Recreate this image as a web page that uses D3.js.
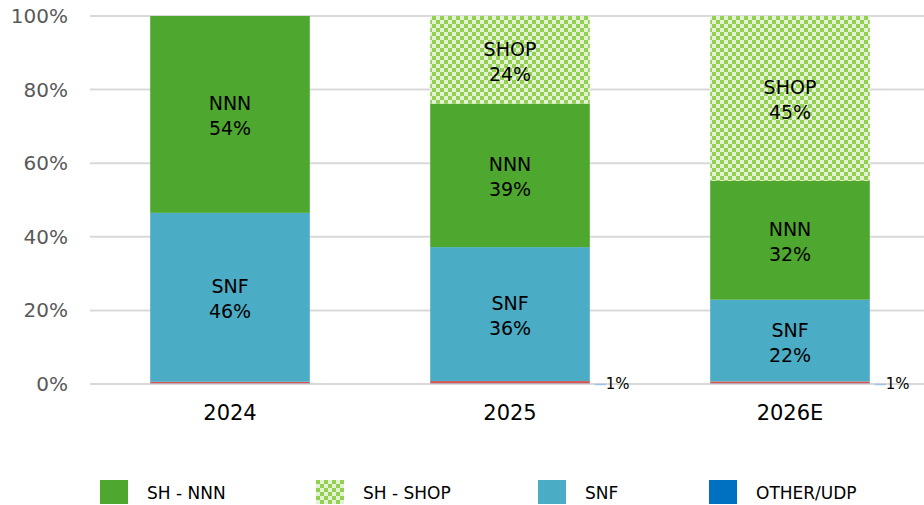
<!DOCTYPE html>
<html>
<head>
<meta charset="utf-8">
<script src="https://cdn.jsdelivr.net/npm/d3@7"></script>
<style>
  body { margin: 0; background: #fff; }
  svg { display: block; font-family: "DejaVu Sans", sans-serif; }
</style>
</head>
<body>
<div id="chart"></div>
<script>
// data (percent of total)
const years = ["2024", "2025", "2026E"];
const otherUdp = [0.2, 0.2, 0.2];   // thin blue sliver at the bottom
const redBase = [0.4, 0.6, 0.5];    // thin red strip on top of it
const snf = [45.9, 36.4, 22.2];
const nnn = [53.5, 39.0, 32.3];
const shop = [0, 23.8, 44.8];
const otherLabels = [null, "1%", "1%"];
const yTicks = [0, 20, 40, 60, 80, 100];

const W = 924, H = 505;
const plot = { left: 90, right: 930, top: 16, bottom: 384 };

const svg = d3.select("#chart").append("svg")
    .attr("width", W)
    .attr("height", H);

// checker pattern for SHOP
const defs = svg.append("defs");
const pat = defs.append("pattern")
    .attr("id", "checker")
    .attr("patternUnits", "userSpaceOnUse")
    .attr("width", 8).attr("height", 8);
pat.append("rect").attr("width", 8).attr("height", 8).attr("fill", "#e4f1d6");
pat.append("rect").attr("width", 4).attr("height", 4).attr("fill", "#92d050");
pat.append("rect").attr("x", 4).attr("y", 4).attr("width", 4).attr("height", 4).attr("fill", "#92d050");

const x = d3.scaleBand()
    .domain(years)
    .range([plot.left, plot.right])
    .paddingInner(0.43)
    .paddingOuter(0.215);

const y = d3.scaleLinear()
    .domain([0, 100])
    .range([plot.bottom, plot.top]);

// gridlines + y labels
svg.append("g")
    .selectAll("line")
    .data(yTicks)
    .enter().append("line")
    .attr("x1", plot.left).attr("x2", W)
    .attr("y1", d => y(d)).attr("y2", d => y(d))
    .attr("stroke", "#d9d9d9")
    .attr("stroke-width", 2);

svg.append("g")
    .selectAll("text")
    .data(yTicks)
    .enter().append("text")
    .attr("x", 68)
    .attr("y", d => y(d))
    .attr("dy", "0.35em")
    .attr("text-anchor", "end")
    .attr("font-size", 20)
    .attr("fill", "#595959")
    .text(d => d + "%");

// stacked series
const keys = ["other", "red", "snf", "nnn", "shop"];
const rows = years.map((yr, i) => ({
    year: yr, other: otherUdp[i], red: redBase[i], snf: snf[i], nnn: nnn[i], shop: shop[i]
}));
const stack = d3.stack().keys(keys)(rows);
const fills = {
    other: "#9dc3e6",
    red: "#d9534f",
    snf: "#4bacc6",
    nnn: "#4ea72e",
    shop: "url(#checker)"
};
const names = { snf: "SNF", nnn: "NNN", shop: "SHOP" };

const layers = svg.append("g")
    .selectAll("g")
    .data(stack)
    .enter().append("g")
    .attr("fill", d => fills[d.key]);

layers.selectAll("rect")
    .data(d => d.map(v => Object.assign(v, { key: d.key })))
    .enter().append("rect")
    .attr("x", d => x(d.data.year))
    .attr("width", x.bandwidth())
    .attr("y", d => y(d[1]))
    .attr("height", d => y(d[0]) - y(d[1]));

// in-bar labels
const labelled = stack.filter(s => names[s.key]);
labelled.forEach(s => {
    s.forEach(d => {
        const val = d[1] - d[0];
        if (val < 5) return;
        const cx = x(d.data.year) + x.bandwidth() / 2;
        const cy = y((d[0] + d[1]) / 2);
        const t = svg.append("text")
            .attr("text-anchor", "middle")
            .attr("font-size", 19)
            .attr("fill", "#000");
        t.append("tspan").attr("x", cx).attr("y", cy - 4).text(names[s.key]);
        t.append("tspan").attr("x", cx).attr("y", cy + 21).text(Math.round(val) + "%");
    });
});

// small "1%" labels with leader dash
years.forEach((yr, i) => {
    if (!otherLabels[i]) return;
    const x0 = x(yr) + x.bandwidth();
    svg.append("line")
        .attr("x1", x0 + 5).attr("x2", x0 + 16)
        .attr("y1", y(0) + 0.5).attr("y2", y(0) + 0.5)
        .attr("stroke", "#9dc3e6")
        .attr("stroke-width", 1.5);
    svg.append("text")
        .attr("x", x0 + 16)
        .attr("y", y(0))
        .attr("dy", "0.35em")
        .attr("font-size", 15)
        .attr("fill", "#000")
        .text(otherLabels[i]);
});

// x labels
svg.append("g")
    .selectAll("text")
    .data(years)
    .enter().append("text")
    .attr("x", d => x(d) + x.bandwidth() / 2)
    .attr("y", 413)
    .attr("dy", "0.35em")
    .attr("text-anchor", "middle")
    .attr("font-size", 21)
    .attr("fill", "#000")
    .text(d => d);

// legend
const legend = [
    { label: "SH - NNN", fill: fills.nnn, x: 100 },
    { label: "SH - SHOP", fill: fills.shop, x: 316 },
    { label: "SNF", fill: fills.snf, x: 538 },
    { label: "OTHER/UDP", fill: "#0070c0", x: 709 }
];
const lg = svg.append("g")
    .selectAll("g")
    .data(legend)
    .enter().append("g")
    .attr("transform", d => `translate(${d.x}, 480)`);
lg.append("rect")
    .attr("width", 28).attr("height", 24)
    .attr("fill", d => d.fill);
lg.append("text")
    .attr("x", 47)
    .attr("y", 13)
    .attr("dy", "0.35em")
    .attr("font-size", 17)
    .attr("fill", "#000")
    .text(d => d.label);
</script>
</body>
</html>
